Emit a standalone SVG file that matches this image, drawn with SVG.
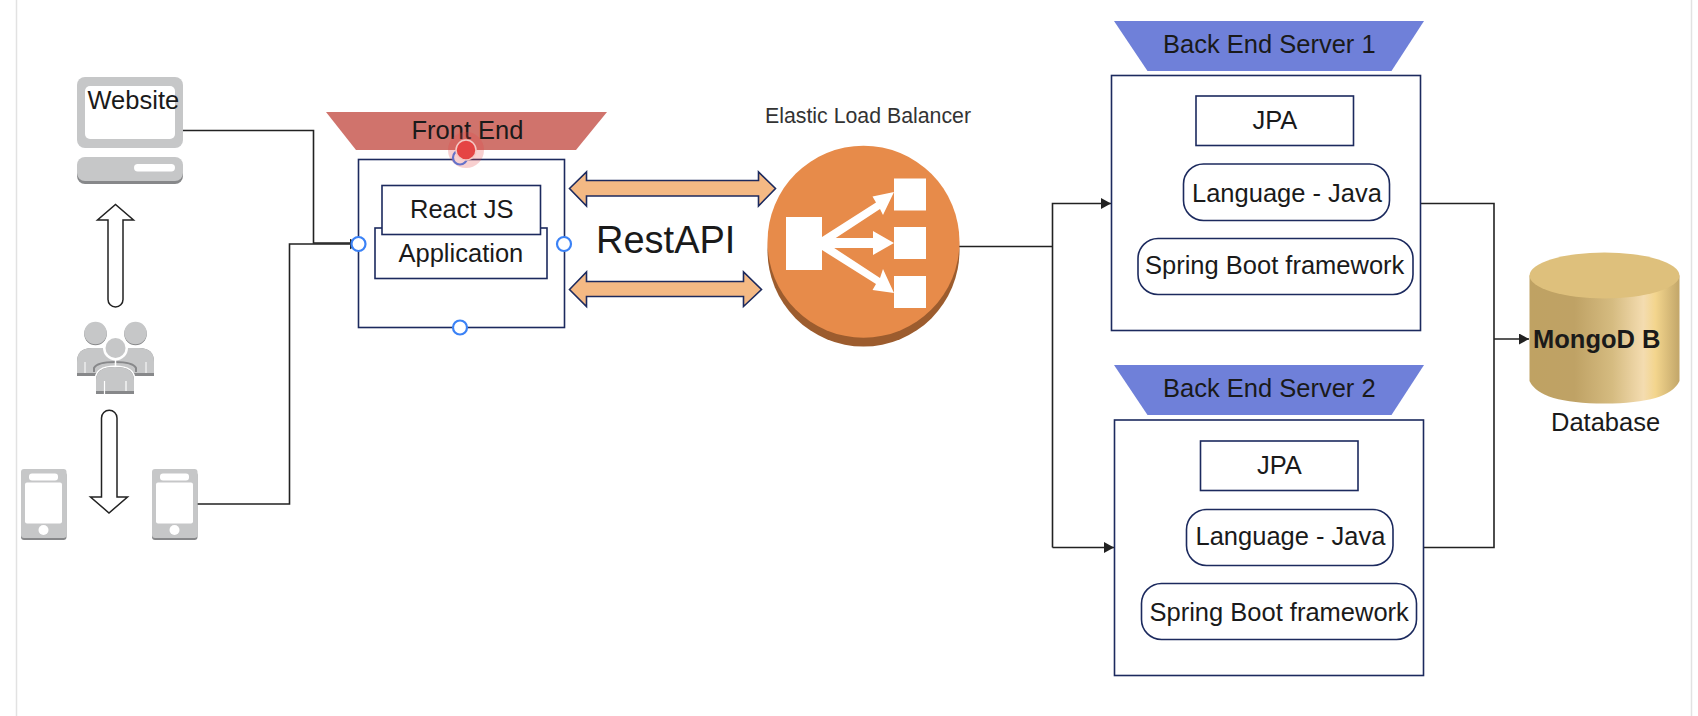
<svg xmlns="http://www.w3.org/2000/svg" width="1698" height="716" viewBox="0 0 1698 716">
<style>
text{font-family:"Liberation Sans",Arial,sans-serif;font-size:25.5px;fill:#1a1a1a}
.box{fill:#fff;stroke:#1c2a5e;stroke-width:1.6}
.ico{fill:#c6c7c8}
.shade{fill:#87888a}
.wh{fill:#fff}
.dbl{fill:#f4b984;stroke:#1c2a5e;stroke-width:1.6}
.blk{fill:#fff;stroke:#222;stroke-width:1.5}
.conn{fill:none;stroke:#222;stroke-width:1.6}
.hd{fill:#fff;stroke:#3b82f6;stroke-width:2.2}
.elbw{fill:#fff}
</style>
<defs>
<linearGradient id="cyl" x1="0" y1="0" x2="1" y2="0">
<stop offset="0" stop-color="#bfa263"/><stop offset="0.3" stop-color="#bfa265"/><stop offset="0.55" stop-color="#d5bb80"/><stop offset="0.76" stop-color="#f4dcb0"/><stop offset="0.84" stop-color="#f3d58d"/><stop offset="1" stop-color="#c2a669"/>
</linearGradient>
<marker id="arr" viewBox="0 0 10 10" refX="10" refY="5" markerWidth="10" markerHeight="11" markerUnits="userSpaceOnUse" orient="auto" preserveAspectRatio="none"><path d="M0 0L10 5L0 10Z" fill="#222"/></marker>
</defs>
<rect width="1698" height="716" fill="#fff"/>
<path d="M16.500 0V716M1691.500 0V716" stroke="#e2e2e2" stroke-width="1.500" fill="none"/>

<g id="connectors">
<path class="conn" d="M183 130.500H313.500V243H350"/>
<path class="conn" d="M197 504H289.500V244H359.500" marker-end="url(#arr)"/>
<path class="conn" d="M959 246.500H1052.500"/>
<path class="conn" d="M1052.500 547.500V203.500H1111" marker-end="url(#arr)"/>
<path class="conn" d="M1052.500 547.500H1114" marker-end="url(#arr)"/>
<path class="conn" d="M1421 203.500H1494V547.500H1424"/>
<path class="conn" d="M1494 339H1529" marker-end="url(#arr)"/>
</g>

<g id="website">
<rect class="ico" x="77" y="77" width="106" height="71" rx="8"/>
<rect class="wh" x="85" y="86" width="90" height="53" rx="5"/>
<rect class="shade" x="77" y="160" width="106" height="24" rx="8"/>
<rect class="ico" x="77" y="157" width="106" height="24" rx="8"/>
<rect class="wh" x="134" y="164" width="41" height="7.500" rx="3.700"/>
<text x="87.500" y="109">Website</text>
</g>

<g id="arrow-up"><path class="blk" d="M108 220H97.500L115.500 204.500L133.500 220H123V299.500A7.500 7.500 0 0 1 108 299.500Z"/></g>

<g id="users">
<circle class="shade" cx="95.500" cy="334" r="11.300"/><circle class="ico" cx="95.500" cy="333" r="11.300"/>
<circle class="shade" cx="135.500" cy="334" r="11.300"/><circle class="ico" cx="135.500" cy="333" r="11.300"/>
<path class="shade" d="M77 376V362Q77 348 92 348H139Q154 348 154 362V376Z"/>
<path class="ico" d="M77 373V362Q77 348 92 348H139Q154 348 154 362V373Z"/>
<path d="M85 362V373M146 362V373" stroke="#fff" stroke-width="1"/>
<path d="M94 372V368Q97 362 115 362Q133 362 136 368V372" fill="none" stroke="#87888a" stroke-width="2"/>
<circle cx="115.500" cy="348" r="12.500" fill="#fff"/>
<circle class="ico" cx="115.500" cy="348" r="10"/>
<path d="M115.500 359V366" stroke="#fff" stroke-width="1.500"/>
<path d="M96 394V380Q96 367 115 367Q134 367 134 380V394Z" fill="#87888a" stroke="#fff" stroke-width="3" paint-order="stroke"/>
<path class="ico" d="M96 391V380Q96 367 115 367Q134 367 134 380V391Z"/>
<path d="M104.500 381V394M126 381V391" stroke="#fff" stroke-width="1.200"/>
</g>

<g id="arrow-down"><path class="blk" d="M101.500 497H90.500L109 513L127.500 497H117V418A7.700 7.700 0 0 0 101.500 418Z"/></g>

<g id="phone-left">
<rect class="shade" x="21" y="472" width="45.500" height="68" rx="3"/>
<rect class="ico" x="21" y="469" width="45.500" height="69" rx="3"/>
<rect class="wh" x="29" y="473.500" width="29" height="7" rx="3"/>
<rect class="wh" x="25" y="482.500" width="37" height="41" rx="2"/>
<circle class="wh" cx="43.500" cy="530" r="5"/>
</g>
<g id="phone-right">
<rect class="shade" x="152" y="472" width="45.500" height="68" rx="3"/>
<rect class="ico" x="152" y="469" width="45.500" height="69" rx="3"/>
<rect class="wh" x="160" y="473.500" width="29" height="7" rx="3"/>
<rect class="wh" x="156" y="482.500" width="37" height="41" rx="2"/>
<circle class="wh" cx="174.500" cy="530" r="5"/>
</g>

<g id="front-end">
<path d="M326 112H607L576 150H356Z" fill="#d0736c"/>
<rect class="box" x="358.500" y="159.500" width="206" height="168"/>
<rect class="box" x="375" y="228" width="172" height="50.500"/>
<rect class="box" x="382" y="185.500" width="158.500" height="49"/>
<text x="410" y="218">React JS</text>
<text x="398.500" y="261.500">Application</text>
<text x="411.500" y="139">Front End</text>
<circle class="hd" cx="460" cy="157.500" r="7"/>
<circle class="hd" cx="358.500" cy="244" r="7"/>
<circle class="hd" cx="564" cy="244" r="7"/>
<circle class="hd" cx="460" cy="327.500" r="7"/>
<circle cx="466" cy="150" r="18" fill="#e54444" fill-opacity="0.25"/>
<circle cx="466" cy="150" r="10" fill="#e54444" stroke="#f4c8c4" stroke-width="1.500"/>
</g>

<g id="rest-api">
<path class="dbl" d="M569.500 188.500L586.500 172V180.500H758.500V172L775.500 188.500L758.500 206V196H586.500V206Z"/>
<path class="dbl" d="M569.500 289.500L586.500 272V281.500H743.500V272L761.500 289.500L743.500 306.500V296.500H586.500V306.500Z"/>
<text x="596" y="253" style="font-size:38px">RestAPI</text>
</g>

<g id="elb">
<text x="765" y="122.500" style="font-size:21.300px;fill:#333">Elastic Load Balancer</text>
<circle cx="863.500" cy="250.500" r="96" fill="#9c5c2e"/>
<circle cx="863.500" cy="241.700" r="96" fill="#e78b4a"/>
<rect class="elbw" x="786" y="217" width="36" height="53"/>
<rect class="elbw" x="894" y="178.500" width="32" height="32"/>
<rect class="elbw" x="894" y="227" width="32" height="32"/>
<rect class="elbw" x="894" y="276" width="32" height="32"/>
<path class="elbw" d="M822 237L876 202.500L872.500 196.500L894 192L883 215L880 209L822 247Z"/>
<path class="elbw" d="M822 238H873V231L894 243L873 255V248H822Z"/>
<path class="elbw" d="M822 240L880 278L883 269L894 293L872.500 290L876 284L822 250Z"/>
</g>

<g id="backend-1">
<path d="M1114 21H1424L1391.500 71H1147.500Z" fill="#6f80d9"/>
<rect class="box" x="1111.500" y="75.500" width="309" height="255"/>
<rect class="box" x="1196" y="96" width="157.500" height="49.500"/>
<rect class="box" x="1183.500" y="164" width="206" height="56.500" rx="20"/>
<rect class="box" x="1138" y="238.500" width="275" height="56" rx="20"/>
<text x="1163" y="53">Back End Server 1</text>
<text x="1252.500" y="129">JPA</text>
<text x="1192" y="201.500">Language - Java</text>
<text x="1145" y="274">Spring Boot framework</text>
</g>

<g id="backend-2">
<path d="M1114 365H1424L1391.500 415H1147.500Z" fill="#6f80d9"/>
<rect class="box" x="1114.500" y="420" width="309" height="255.500"/>
<rect class="box" x="1200.500" y="441" width="157.500" height="49.500"/>
<rect class="box" x="1186.500" y="509.500" width="206.500" height="56" rx="20"/>
<rect class="box" x="1141.500" y="583.500" width="275" height="56" rx="20"/>
<text x="1163" y="397">Back End Server 2</text>
<text x="1257" y="474">JPA</text>
<text x="1195.500" y="545">Language - Java</text>
<text x="1149.500" y="620.500">Spring Boot framework</text>
</g>

<g id="mongodb">
<path d="M1529.500 275.500V381Q1540 403.500 1604.500 403.500Q1669 403.500 1679.500 381V275.500Z" fill="url(#cyl)"/>
<ellipse cx="1604.500" cy="275.500" rx="75" ry="23" fill="#dec07c"/>
<text x="1533" y="348" style="font-weight:700">MongoD B</text>
<text x="1551" y="431">Database</text>
</g>
</svg>
